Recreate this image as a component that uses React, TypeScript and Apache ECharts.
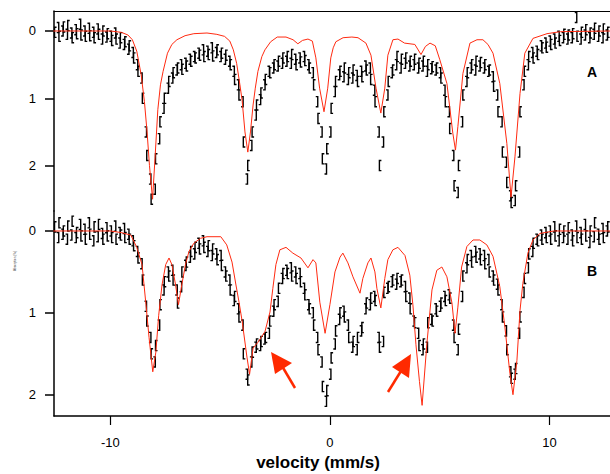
import React, { useEffect, useRef } from "react";
import * as echarts from "echarts";

// velocity channels: start and step (mm/s)
const velStart = -12.5;
const velStep = 0.1;

// Panel A: absorption (%) per channel, -12.5 ... 12.7 mm/s
const dataA = [
  0.02, -0.05, 0.08, 0.0, -0.06,
  0.05, -0.08, 0.03, 0.1, -0.02, 0.04, -0.1, 0.06, 0.0, 0.08,
  -0.04, 0.07, 0.02, 0.1, -0.03, 0.05, 0.12, 0.0, 0.09, 0.04,
  0.08, 0.14, 0.03, 0.12, 0.18, 0.1, 0.2, 0.16, 0.27, 0.22,
  0.32, 0.4, 0.5, 0.6, 0.7, 1.0, 1.5, 1.85, 2.2, 2.5,
  2.35, 1.9, 1.6, 1.35, 1.15, 1.0, 0.85, 0.75, 0.7, 0.62,
  0.58, 0.55, 0.5, 0.57, 0.48, 0.52, 0.42, 0.45, 0.38, 0.4,
  0.33, 0.36, 0.28, 0.38, 0.3, 0.35, 0.25, 0.37, 0.32, 0.28,
  0.38, 0.33, 0.42, 0.36, 0.45, 0.5, 0.6, 0.72, 0.8, 0.95,
  1.05, 1.65, 2.2, 2.0, 1.7, 1.5, 1.25, 1.1, 1.02, 0.92,
  0.8, 0.72, 0.6, 0.62, 0.55, 0.5, 0.52, 0.45, 0.48, 0.4,
  0.45, 0.38, 0.48, 0.35, 0.42, 0.5, 0.4, 0.46, 0.38, 0.44,
  0.5, 0.55, 0.62, 0.8, 1.05, 1.3, 1.5, 1.9, 2.05, 1.75,
  1.5, 1.15, 0.9, 0.75, 0.65, 0.6, 0.68, 0.55, 0.72, 0.62,
  0.7, 0.58, 0.66, 0.75, 0.6, 0.68, 0.52, 0.58, 0.55, 0.72,
  0.88, 1.05, 1.5, 2.0, 1.65, 1.2, 0.95, 0.75, 0.62, 0.58,
  0.5, 0.38, 0.55, 0.42, 0.48, 0.4, 0.52, 0.45, 0.5, 0.42,
  0.55, 0.48, 0.52, 0.45, 0.6, 0.5, 0.56, 0.53, 0.58, 0.55,
  0.62, 0.7, 0.88, 1.05, 1.2, 1.45, 1.85, 2.3, 2.4, 2.0,
  1.35, 0.95, 0.75, 0.62, 0.55, 0.5, 0.58, 0.45, 0.52, 0.47,
  0.55, 0.5, 0.6, 0.58, 0.68, 0.82, 0.95, 1.2, 1.35, 1.8,
  1.95, 2.25, 2.45, 2.55, 2.52, 2.3, 1.8, 1.2, 0.8, 0.6,
  0.5, 0.38, 0.32, 0.4, 0.3, 0.35, 0.22, 0.25, 0.18, 0.24,
  0.15, 0.2, 0.12, 0.18, 0.08, 0.14, 0.1, 0.05, 0.12, 0.06,
  0.1, 0.04, -0.2, 0.08, 0.12, 0.02, 0.06, -0.02, 0.1, 0.03,
  0.05, -0.04, 0.08, 0.0, 0.1, -0.03, 0.06, 0.02,
];

// Panel B: absorption (%) per channel
const dataB = [
  -0.05, 0.08, -0.1, 0.04, 0.0,
  0.1, -0.06, 0.05, -0.12, 0.08, 0.02, -0.08, 0.06, -0.02, 0.1,
  -0.1, 0.04, 0.12, -0.05, 0.07, -0.08, 0.03, 0.1, -0.04, 0.06,
  0.0, 0.08, -0.06, 0.1, 0.02, 0.05, -0.03, 0.08, 0.04, 0.1,
  0.12, 0.18, 0.25, 0.33, 0.4, 0.6, 0.92, 1.1, 1.3, 1.5,
  1.6, 1.4, 1.15, 0.9, 0.72, 0.62, 0.5, 0.55, 0.48, 0.6,
  0.72, 0.88, 0.68, 0.5, 0.42, 0.38, 0.32, 0.25, 0.28, 0.2,
  0.15, 0.22, 0.12, 0.2, 0.25, 0.18, 0.3, 0.22, 0.28, 0.35,
  0.3, 0.42, 0.5, 0.55, 0.6, 0.72, 0.85, 0.8, 0.95, 1.05,
  1.15, 1.5, 1.75, 1.82, 1.6, 1.48, 1.42, 1.38, 1.4, 1.35,
  1.32, 1.3, 1.25, 1.1, 0.98, 0.9, 0.86, 0.7, 0.58, 0.52,
  0.48, 0.52, 0.45, 0.55, 0.5, 0.58, 0.52, 0.62, 0.7, 0.78,
  0.9, 0.95, 1.0, 1.15, 1.3, 1.45, 1.6, 1.9, 2.08, 1.95,
  1.75, 1.55, 1.38, 1.22, 1.08, 1.0, 0.98, 1.05, 1.15, 1.3,
  1.42, 1.35, 1.45, 1.3, 1.22, 1.18, 0.95, 0.88, 0.9, 0.82,
  0.8, 0.85, 1.3, 1.42, 1.35, 0.75, 0.7, 0.68, 0.62, 0.6,
  0.65, 0.58, 0.62, 0.6, 0.68, 0.8, 0.82, 0.95, 1.1, 1.12,
  1.25, 1.4, 1.45, 1.38, 1.42, 1.12, 1.08, 1.1, 0.95, 0.98,
  0.92, 0.88, 0.8, 0.85, 0.78, 0.82, 1.15, 1.3, 1.45, 1.2,
  0.8, 0.55, 0.45, 0.35, 0.3, 0.38, 0.25, 0.32, 0.28, 0.35,
  0.3, 0.4, 0.35, 0.5, 0.55, 0.6, 0.65, 0.72, 0.9, 1.05,
  1.22, 1.45, 1.72, 1.8, 1.75, 1.68, 1.25, 1.05, 0.75, 0.58,
  0.45, 0.28, 0.25, 0.15, 0.1, 0.12, 0.05, 0.1, 0.02, 0.08,
  0.0, 0.1, -0.05, 0.06, 0.12, -0.02, 0.08, 0.0, 0.1, -0.04,
  0.05, 0.12, -0.06, 0.08, 0.02, 0.1, -0.08, 0.06, 0.14, 0.0,
  0.07, -0.1, 0.04, 0.1, -0.03, 0.08, 0.0, -0.05,
];

// Fitted curves [velocity, absorption]
const fitA: number[][] = [
  [-12.6, 0], [-10.0, 0.0], [-9.5, 0.02], [-9.2, 0.06], [-9.0, 0.13], [-8.8, 0.3],
  [-8.6, 0.65], [-8.45, 1.05], [-8.33, 1.5], [-8.22, 2.0], [-8.08, 2.5], [-7.97, 1.9],
  [-7.84, 1.17], [-7.72, 0.8], [-7.6, 0.6], [-7.4, 0.33], [-7.2, 0.2], [-6.97, 0.13],
  [-6.6, 0.07], [-6.2, 0.04], [-5.6, 0.03], [-5.15, 0.05], [-4.8, 0.08], [-4.56, 0.15],
  [-4.4, 0.28], [-4.25, 0.48], [-4.1, 0.8], [-4.0, 1.03], [-3.87, 1.5], [-3.74, 1.8],
  [-3.62, 1.5], [-3.5, 1.1], [-3.4, 0.85], [-3.28, 0.6], [-3.1, 0.38], [-2.96, 0.28],
  [-2.7, 0.16], [-2.4, 0.09], [-2.0, 0.09], [-1.68, 0.13], [-1.46, 0.19], [-1.25, 0.14],
  [-1.0, 0.12], [-0.8, 0.15], [-0.64, 0.4], [-0.47, 0.85], [-0.27, 1.2], [-0.1, 0.85],
  [0.04, 0.4], [0.15, 0.25], [0.27, 0.16], [0.6, 0.1], [1.0, 0.09], [1.28, 0.1],
  [1.64, 0.18], [1.87, 0.36], [2.1, 0.85], [2.32, 1.22], [2.5, 0.85], [2.64, 0.36],
  [2.87, 0.13], [3.1, 0.12], [3.4, 0.18], [3.87, 0.2], [4.15, 0.35], [4.35, 0.23],
  [4.56, 0.18], [4.8, 0.22], [5.0, 0.42], [5.33, 0.78], [5.6, 1.52], [5.72, 1.77],
  [5.83, 1.42], [6.06, 0.63], [6.38, 0.18], [6.7, 0.13], [6.97, 0.13], [7.2, 0.2],
  [7.43, 0.33], [7.74, 0.78], [8.06, 1.67], [8.25, 2.47], [8.43, 1.87], [8.66, 0.93],
  [8.88, 0.33], [9.25, 0.11], [9.89, 0.04], [10.5, 0.01], [12.8, 0.0],
];

const fitB: number[][] = [
  [-12.6, 0.0], [-10.0, 0.0], [-9.5, 0.02], [-9.07, 0.05], [-8.8, 0.2], [-8.56, 0.41],
  [-8.38, 0.9], [-8.24, 1.3], [-8.07, 1.72], [-7.93, 1.48], [-7.8, 1.03], [-7.65, 0.66],
  [-7.48, 0.41], [-7.33, 0.33], [-7.2, 0.41], [-7.03, 0.66], [-6.9, 0.9], [-6.75, 0.66],
  [-6.58, 0.41], [-6.42, 0.25], [-6.2, 0.15], [-5.9, 0.09], [-5.6, 0.07], [-4.97, 0.07],
  [-4.7, 0.17], [-4.46, 0.38], [-4.28, 0.66], [-4.14, 0.87], [-4.0, 1.1], [-3.78, 1.54],
  [-3.66, 1.75], [-3.5, 1.43], [-3.28, 1.36], [-2.96, 1.23], [-2.73, 0.99], [-2.6, 0.7],
  [-2.46, 0.41], [-2.28, 0.23], [-2.0, 0.2], [-1.69, 0.27], [-1.32, 0.33], [-1.0, 0.45],
  [-0.77, 0.35], [-0.64, 0.39], [-0.46, 0.87], [-0.22, 1.25], [0.0, 0.9], [0.23, 0.5],
  [0.46, 0.32], [0.59, 0.27], [0.82, 0.39], [1.05, 0.56], [1.37, 0.76], [1.5, 0.58],
  [1.73, 0.39], [1.87, 0.33], [2.05, 0.5], [2.14, 0.7], [2.32, 0.94], [2.5, 0.58],
  [2.64, 0.35], [2.87, 0.23], [3.1, 0.2], [3.42, 0.3], [3.64, 0.54], [3.78, 0.9],
  [3.92, 1.39], [4.08, 1.84], [4.2, 2.13], [4.42, 1.37], [4.65, 0.72], [4.87, 0.48],
  [5.1, 0.44], [5.33, 0.56], [5.56, 0.88], [5.7, 1.25], [5.83, 0.93], [6.0, 0.44],
  [6.24, 0.19], [6.52, 0.11], [6.83, 0.11], [7.15, 0.17], [7.43, 0.31], [7.74, 0.68],
  [7.97, 1.17], [8.2, 1.74], [8.34, 2.0], [8.52, 1.58], [8.66, 0.97], [8.79, 0.64],
  [9.02, 0.27], [9.25, 0.11], [9.57, 0.03], [10.2, 0.0], [12.8, 0.0],
];

const xTicks = [-10, 0, 10];
const yTicks = [0, 1, 2];
const errA = 0.075;
const errB = 0.062;

const FONT = "Liberation Sans";
const RED = "#ff2a10";

function toPoints(vals: number[]) {
  return vals.map((y, i) => [+(velStart + i * velStep).toFixed(2), y]);
}

function bracketSeries(vals: number[], axisIdx: number, err: number) {
  return {
    type: "custom",
    xAxisIndex: axisIdx,
    yAxisIndex: axisIdx,
    clip: false,
    data: toPoints(vals),
    encode: { x: 0, y: 1 },
    z: 2,
    renderItem: (params: any, api: any) => {
      const v = api.value(0);
      const y = api.value(1);
      const t = api.coord([v, y - err]);
      const b = api.coord([v, y + err]);
      const x = t[0];
      const s = params.dataIndex % 2 === 0 ? 1 : -1;
      return {
        type: "polyline",
        shape: {
          points: [
            [x + s, t[1]],
            [x - s, t[1]],
            [x - s, b[1]],
            [x + s, b[1]],
          ],
        },
        style: { stroke: "#000", fill: "none", lineWidth: 1.4 },
      };
    },
  };
}

function yAxis(grid: number, min: number, max: number) {
  return {
    type: "value",
    gridIndex: grid,
    inverse: true,
    min,
    max,
    splitLine: { show: false },
    axisLine: { show: true, onZero: false, lineStyle: { color: "#000", width: 1.5 } },
    axisTick: {
      show: true,
      inside: false,
      length: 9,
      customValues: yTicks,
      lineStyle: { color: "#000", width: 1.5 },
    },
    axisLabel: {
      show: true,
      customValues: yTicks,
      margin: 18,
      color: "#000",
      fontSize: 13,
      fontFamily: FONT,
    },
  };
}

export default function App() {
  const ref = useRef<HTMLDivElement>(null);
  useEffect(() => {
    document.body.style.margin = "0";
    if (!ref.current) return;
    const chart = echarts.init(ref.current, null, { renderer: "svg" });
    const xMin = -12.57;
    const xMax = 12.76;
    chart.setOption({
      animation: false,
      backgroundColor: "#fff",
      grid: [
        { left: 54, right: 0, top: 11, height: 200 },
        { left: 54, right: 0, top: 211, height: 205 },
      ],
      xAxis: [
        {
          type: "value",
          gridIndex: 0,
          position: "top",
          min: xMin,
          max: xMax,
          splitLine: { show: false },
          axisLine: { show: true, onZero: false, lineStyle: { color: "#000", width: 1 } },
          axisTick: { show: false },
          axisLabel: { show: false },
        },
        {
          type: "value",
          gridIndex: 1,
          position: "bottom",
          min: xMin,
          max: xMax,
          splitLine: { show: false },
          axisLine: { show: true, onZero: false, lineStyle: { color: "#000", width: 1.5 } },
          axisTick: {
            show: true,
            length: 9,
            customValues: xTicks,
            lineStyle: { color: "#000", width: 1.2 },
          },
          axisLabel: {
            show: true,
            customValues: xTicks,
            margin: 20,
            color: "#000",
            fontSize: 13,
            fontFamily: FONT,
          },
        },
      ],
      yAxis: [yAxis(0, -0.297, 2.675), yAxis(1, -0.244, 2.26)],
      series: [
        bracketSeries(dataA, 0, errA),
        bracketSeries(dataB, 1, errB),
        {
          type: "line",
          xAxisIndex: 0,
          yAxisIndex: 0,
          data: fitA,
          symbol: "none",
          showSymbol: false,
          clip: false,
          z: 3,
          lineStyle: { color: RED, width: 1 },
        },
        {
          type: "line",
          xAxisIndex: 1,
          yAxisIndex: 1,
          data: fitB,
          symbol: "none",
          showSymbol: false,
          clip: false,
          z: 3,
          lineStyle: { color: RED, width: 1 },
        },
      ],
      graphic: [
        {
          type: "text",
          x: 318,
          y: 462,
          style: {
            text: "velocity (mm/s)",
            font: `bold 17px "${FONT}"`,
            textAlign: "center",
            textVerticalAlign: "middle",
            align: "center",
            verticalAlign: "middle",
            fill: "#000",
          },
        },
        {
          type: "text",
          x: 592,
          y: 72,
          style: {
            text: "A",
            font: `bold 14px "${FONT}"`,
            textAlign: "center",
            textVerticalAlign: "middle",
            align: "center",
            verticalAlign: "middle",
            fill: "#000",
          },
        },
        {
          type: "text",
          x: 592,
          y: 271,
          style: {
            text: "B",
            font: `bold 14px "${FONT}"`,
            textAlign: "center",
            textVerticalAlign: "middle",
            align: "center",
            verticalAlign: "middle",
            fill: "#000",
          },
        },
        {
          type: "text",
          x: 15,
          y: 261,
          rotation: Math.PI / 2,
          style: {
            text: "Absorption (%)",
            font: `3px "${FONT}"`,
            textAlign: "center",
            textVerticalAlign: "middle",
            align: "center",
            verticalAlign: "middle",
            fill: "#333",
          },
        },
        {
          type: "polygon",
          shape: { points: [[271, 352], [292, 363], [275, 374]] },
          style: { fill: "#ff2a00" },
        },
        {
          type: "line",
          shape: { x1: 282, y1: 366, x2: 295, y2: 388 },
          style: { stroke: "#ff2a00", lineWidth: 2.5 },
        },
        {
          type: "polygon",
          shape: { points: [[411, 354], [392, 367], [409, 378]] },
          style: { fill: "#ff2a00" },
        },
        {
          type: "line",
          shape: { x1: 401, y1: 371, x2: 388, y2: 392 },
          style: { stroke: "#ff2a00", lineWidth: 2.5 },
        },
      ],
    });
    return () => chart.dispose();
  }, []);
  return <div ref={ref} style={{ width: 610, height: 474 }} />;
}
